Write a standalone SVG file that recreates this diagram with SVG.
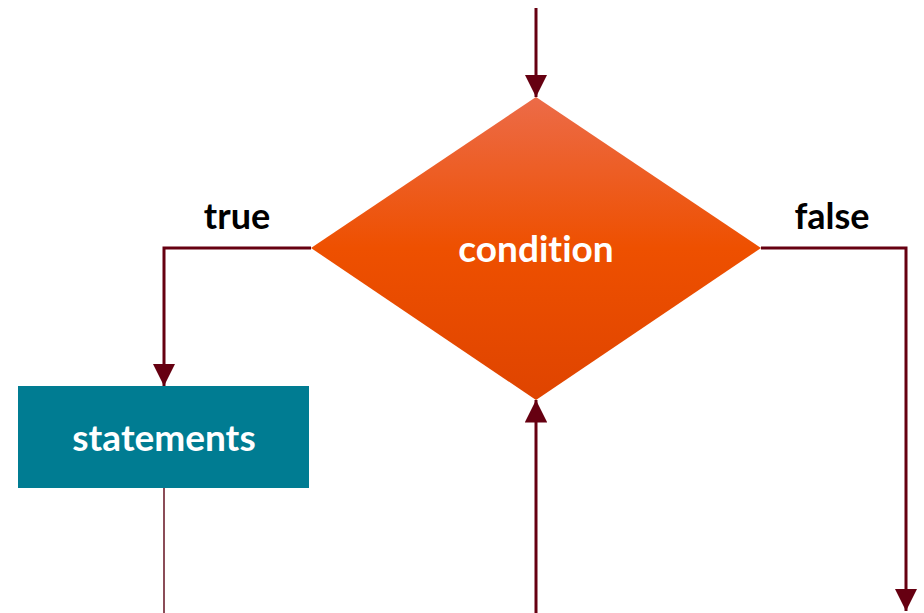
<svg xmlns="http://www.w3.org/2000/svg" width="924" height="613" viewBox="0 0 924 613">
<style>
.conn{fill:none;stroke:#660011;stroke-width:3}
.thin{fill:none;stroke:#5a0010;stroke-width:1.4}
.lbl{font-family:Lato,"Open Sans",sans-serif;font-weight:bold;font-size:36px;fill:#000;text-anchor:middle;font-variant-ligatures:none}
.ntxt{font-family:Lato,"Open Sans",sans-serif;font-weight:bold;font-size:37px;fill:#fff;text-anchor:middle;font-variant-ligatures:none}
</style>
<defs>
<linearGradient id="dg" x1="0" y1="0" x2="0" y2="1">
<stop offset="0" stop-color="#EC6B48"/>
<stop offset="0.5" stop-color="#EE5000"/>
<stop offset="1" stop-color="#DF4400"/>
</linearGradient>
<marker id="ah" viewBox="0 0 10 10" refX="10" refY="5" markerWidth="7.5" markerHeight="7.5" orient="auto" markerUnits="strokeWidth">
<path d="M0,0 L10,5 L0,10 Z" fill="#660011"/>
</marker>
</defs>
<rect width="924" height="613" fill="#fff"/>
<g id="connectors">
<line class="conn" x1="536" y1="8" x2="536" y2="97" marker-end="url(#ah)"/>
<polyline class="conn" points="311,248 164,248 164,386" marker-end="url(#ah)"/>
<polyline class="conn" points="761,248 906,248 906,611" marker-end="url(#ah)"/>
<line class="conn" x1="536" y1="613" x2="536" y2="400" marker-end="url(#ah)"/>
<line class="thin" x1="164" y1="488" x2="164" y2="613"/>
</g>
<g id="condition">
<polygon points="536,97 761,248 536,400 311,248" fill="url(#dg)"/>
<text class="ntxt" x="536" y="262">condition</text>
</g>
<g id="statements">
<rect x="18" y="386" width="291" height="102" fill="#007C92"/>
<text class="ntxt" x="164" y="451">statements</text>
</g>
<g id="label-true"><text class="lbl" x="237" y="229">true</text></g>
<g id="label-false"><text class="lbl" x="832" y="229">false</text></g>
</svg>
